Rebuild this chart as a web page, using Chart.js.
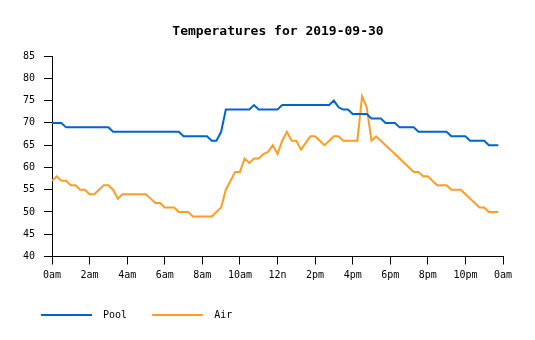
<!DOCTYPE html>
<html>
<head>
<meta charset="utf-8">
<title>Temperatures for 2019-09-30</title>
<script src="https://cdn.jsdelivr.net/npm/chart.js@4/dist/chart.umd.min.js"></script>
<style>
  body { margin: 0; background: #fff; }
  canvas { display: block; }
</style>
</head>
<body>
<canvas id="tempChart" width="535" height="340"></canvas>
<script>
// readings every 15 minutes, 0:00 .. 23:45
var sampleMinutes = 15;
var xTickLabels = ['0am','2am','4am','6am','8am','10am','12n','2pm','4pm','6pm','8pm','10pm','0am'];
var yTicks = [40, 85, 5]; // min, max, step

var poolTemps = [
  70,70,70,69,69,69,69,69,69,69,
  69,69,69,68,68,68,68,68,68,68,
  68,68,68,68,68,68,68,68,67,67,
  67,67,67,67,66,66,68,73,73,73,
  73,73,73,74,73,73,73,73,73,74,
  74,74,74,74,74,74,74,74,74,74,
  75,73.5,73,73,72,72,72,72,71,71,
  71,70,70,70,69,69,69,69,68,68,
  68,68,68,68,68,67,67,67,67,66,
  66,66,66,65,65,65
];
var airTemps = [
  57,58,57,57,56,56,55,55,54,54,
  55,56,56,55,53,54,54,54,54,54,
  54,53,52,52,51,51,51,50,50,50,
  49,49,49,49,49,50,51,55,57,59,
  59,62,61,62,62,63,63.5,65,63,66,
  68,66,66,64,65.5,67,67,66,65,66,
  67,67,66,66,66,66,76,73.5,66,67,
  66,65,64,63,62,61,60,59,59,58,
  58,57,56,56,56,55,55,55,54,53,
  52,51,51,50,50,50
];

var seriesNames = ['Pool', 'Air'];
var seriesColors = ['#0066cc', '#ff9c24'];

function toPoints(vals) {
  return vals.map(function (v, i) { return { x: i * sampleMinutes / 60, y: v }; });
}

var mono = "'DejaVu Sans Mono', 'Liberation Mono', monospace";
Chart.defaults.font.family = mono;
Chart.defaults.font.size = 10;
Chart.defaults.color = '#000';

var ctx = document.getElementById('tempChart').getContext('2d');
var myChart = new Chart(ctx, {
  type: 'line',
  data: {
    datasets: [{
      label: seriesNames[0],
      data: toPoints(poolTemps),
      borderColor: seriesColors[0],
      backgroundColor: seriesColors[0],
      borderWidth: 2,
      pointRadius: 0,
      tension: 0
    }, {
      label: seriesNames[1],
      data: toPoints(airTemps),
      borderColor: seriesColors[1],
      backgroundColor: seriesColors[1],
      borderWidth: 2,
      pointRadius: 0,
      tension: 0
    }]
  },
  options: {
    responsive: false,
    animation: false,
    devicePixelRatio: 1,
    layout: { padding: { left: 22, right: 1, top: 0, bottom: 10 } },
    plugins: {
      title: {
        display: true,
        text: 'Temperatures for 2019-09-30',
        color: '#000',
        font: { family: mono, size: 13, weight: 'bold' },
        padding: { top: 24, bottom: 16.5 }
      },
      legend: {
        position: 'bottom',
        align: 'start',
        labels: {
          boxWidth: 51,
          boxHeight: 2,
          padding: 19,
          color: '#000',
          font: { family: mono, size: 10 },
          generateLabels: function (chart) {
            return chart.data.datasets.map(function (ds, i) {
              return {
                text: ' ' + ds.label + ' ',
                fillStyle: ds.borderColor,
                strokeStyle: ds.borderColor,
                lineWidth: 0,
                hidden: false,
                datasetIndex: i
              };
            });
          }
        }
      },
      tooltip: { enabled: false }
    },
    scales: {
      x: {
        type: 'linear',
        min: 0,
        max: 24,
        afterFit: function (s) { s.paddingRight = 32; s.height = 34.5; },
        border: { display: true, color: '#000', width: 1 },
        grid: { drawOnChartArea: false, drawTicks: true, tickLength: 8, color: '#000' },
        ticks: {
          stepSize: 2,
          padding: 5,
          maxRotation: 0,
          autoSkip: false,
          callback: function (v) { return xTickLabels[v / 2]; }
        }
      },
      y: {
        min: yTicks[0],
        max: yTicks[1],
        afterFit: function (s) { s.width = 30; },
        border: { display: true, color: '#000', width: 1 },
        grid: { drawOnChartArea: false, drawTicks: true, tickLength: 8, color: '#000' },
        ticks: { stepSize: yTicks[2], padding: 9 }
      }
    }
  }
});
</script>
</body>
</html>
